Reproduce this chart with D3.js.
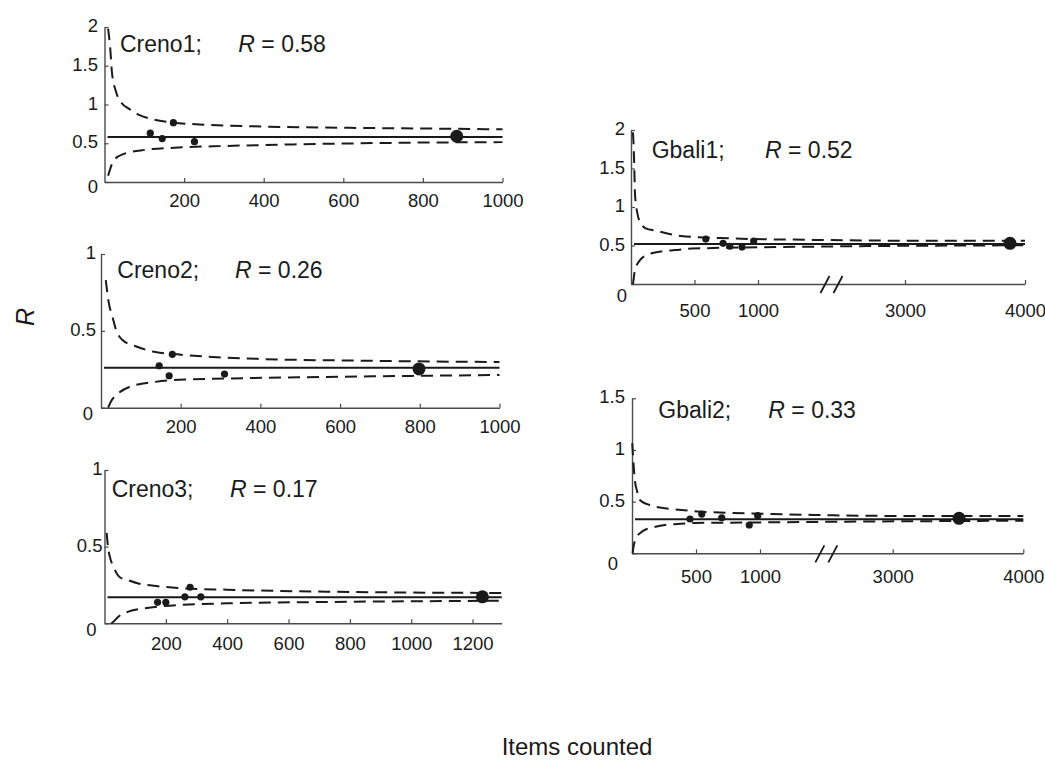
<!DOCTYPE html>
<html>
<head>
<meta charset="utf-8">
<script src="https://cdn.jsdelivr.net/npm/d3@7"></script>
<style>
  html, body { margin: 0; padding: 0; background: #fff; }
  svg { display: block; }
  text { font-family: "Liberation Sans", Arial, sans-serif; fill: #1a1a1a; }
</style>
</head>
<body>
<svg id="chart" width="1045" height="761"></svg>
<script>
// ---------------- DATA ----------------
const panelNames = ["Creno1", "Creno2", "Creno3", "Gbali1", "Gbali2"];
const panelR = [0.58, 0.26, 0.17, 0.52, 0.33];

const xTicksCreno12 = [200, 400, 600, 800, 1000];
const xTicksCreno3 = [200, 400, 600, 800, 1000, 1200];
const xTicksGbali = [500, 1000, 3000, 4000];
const yTicksTop2 = [0, 0.5, 1, 1.5, 2];
const yTicksTop1 = [0, 0.5, 1];
const yTicksTop15 = [0, 0.5, 1, 1.5];

// individual samples [items counted, R]
const creno1Samples = [[115, 0.63], [145, 0.56], [173, 0.765], [226, 0.52]];
const creno2Samples = [[146, 0.273], [171, 0.208], [179, 0.347], [310, 0.219]];
const creno3Samples = [[173, 0.137], [200, 0.137], [262, 0.173], [279, 0.235], [314, 0.173]];
const gbali1Samples = [[589, 0.584], [725, 0.528], [778, 0.49], [874, 0.48], [966, 0.558]];
const gbali2Samples = [[453, 0.332], [545, 0.38], [701, 0.344], [916, 0.274], [982, 0.364]];

// pooled totals [items counted, R]
const creno1Pooled = [885, 0.59];
const creno2Pooled = [798, 0.252];
const creno3Pooled = [1232, 0.173];
const gbali1Pooled = [3875, 0.528];
const gbali2Pooled = [3508, 0.338];

// confidence envelopes
const creno1Upper = [[9, 1.98], [14, 1.75], [19, 1.40], [28, 1.18], [43, 1.02], [60, 0.95], [85, 0.87], [120, 0.81], [165, 0.77], [250, 0.74], [400, 0.715], [600, 0.70], [800, 0.69], [1000, 0.68]];
const creno1Lower = [[9, 0.08], [15, 0.18], [22, 0.27], [47, 0.36], [102, 0.415], [186, 0.445], [307, 0.465], [475, 0.485], [726, 0.505], [1000, 0.515]];
const creno2Upper = [[12, 0.83], [19, 0.69], [29, 0.59], [38, 0.505], [54, 0.44], [87, 0.40], [130, 0.365], [200, 0.345], [400, 0.317], [650, 0.306], [1000, 0.297]];
const creno2Lower = [[18, 0.0], [25, 0.04], [42, 0.09], [71, 0.135], [137, 0.168], [196, 0.182], [317, 0.19], [567, 0.20], [1000, 0.213]];
const creno3Upper = [[7, 0.59], [12, 0.49], [18, 0.43], [29, 0.37], [50, 0.30], [78, 0.28], [110, 0.26], [160, 0.245], [241, 0.23], [400, 0.219], [724, 0.206], [1295, 0.198]];
const creno3Lower = [[22, 0.0], [29, 0.01], [45, 0.043], [78, 0.076], [132, 0.098], [180, 0.11], [398, 0.13], [724, 0.139], [1295, 0.147]];
const gbali1Upper = [[15, 1.97], [20, 1.83], [27, 1.45], [31, 1.18], [50, 0.92], [71, 0.805], [120, 0.72], [189, 0.695], [393, 0.623], [778, 0.593], [1750, 0.573], [3068, 0.562], [4000, 0.562]];
const gbali1Lower = [[15, 0.0], [18, 0.03], [31, 0.18], [71, 0.31], [123, 0.377], [163, 0.40], [267, 0.43], [346, 0.44], [477, 0.46], [1752, 0.485], [4000, 0.503]];
const gbali2Upper = [[2, 1.065], [10, 0.90], [23, 0.70], [40, 0.60], [62, 0.516], [120, 0.475], [232, 0.44], [310, 0.429], [466, 0.41], [896, 0.387], [1803, 0.371], [3155, 0.361], [4000, 0.361]];
const gbali2Lower = [[5, 0.0], [10, 0.05], [37, 0.16], [62, 0.194], [115, 0.235], [154, 0.248], [258, 0.274], [336, 0.281], [492, 0.293], [895, 0.298], [2307, 0.306], [4000, 0.316]];

// ---------------- LAYOUT ----------------
const layout = [
  { xDomain: [0, 1000], xRange: [104.5, 502.5], yTop: 2, yRange: [182, 27], xTicks: xTicksCreno12, yTicks: yTicksTop2,
    titleX: 120, titleY: 51.7, rX: 238.3, xPad: 11.4, yGap: 6.5, zeroDy: 6, zeroDx: 0, brk: false,
    samples: creno1Samples, pooled: creno1Pooled, upper: creno1Upper, lower: creno1Lower },
  { xDomain: [0, 1000], xRange: [101, 499.5], yTop: 1, yRange: [407.7, 254], xTicks: xTicksCreno12, yTicks: yTicksTop1,
    titleX: 117.3, titleY: 278.3, rX: 235, xPad: 12.4, yGap: 5, zeroDy: 7, zeroDx: -3, brk: false,
    samples: creno2Samples, pooled: creno2Pooled, upper: creno2Upper, lower: creno2Lower },
  { xDomain: [0, 1295], xRange: [104.5, 501.7], yTop: 1, yRange: [623.3, 470], xTicks: xTicksCreno3, yTicks: yTicksTop1,
    titleX: 111.7, titleY: 496.7, rX: 230, xPad: 13.4, yGap: 2, zeroDy: 8, zeroDx: -6, brk: false,
    samples: creno3Samples, pooled: creno3Pooled, upper: creno3Upper, lower: creno3Lower },
  { xDomain: [0, 1000, 3000, 4000], xRange: [631, 758, 905, 1025], yTop: 2, yRange: [284, 130], xTicks: xTicksGbali, yTicks: yTicksTop2,
    titleX: 651.7, titleY: 158.3, rX: 765, xPad: 19.4, yGap: 6, zeroDy: 12.7, zeroDx: 2, brk: true,
    samples: gbali1Samples, pooled: gbali1Pooled, upper: gbali1Upper, lower: gbali1Lower },
  { xDomain: [0, 1000, 3000, 4000], xRange: [632, 760, 892.7, 1023.3], yTop: 1.5, yRange: [553.3, 398.3], xTicks: xTicksGbali, yTicks: yTicksTop15,
    titleX: 658.3, titleY: 418.3, rX: 768.3, xPad: 16.4, yGap: 7, zeroDy: 11.7, zeroDx: -7, brk: true,
    samples: gbali2Samples, pooled: gbali2Pooled, upper: gbali2Upper, lower: gbali2Lower }
];

const INK = "#1a1a1a";
const AXIS = "#4a4a4a";
const svg = d3.select("#chart");
svg.append("rect").attr("width", 1045).attr("height", 761).attr("fill", "#fff");

layout.forEach((p, i) => {
  const x = d3.scaleLinear().domain(p.xDomain).range(p.xRange);
  const y = d3.scaleLinear().domain([0, p.yTop]).range(p.yRange);
  const g = svg.append("g");

  // x axis
  const xa = g.append("g")
    .attr("transform", `translate(0,${p.yRange[0]})`)
    .call(d3.axisBottom(x).tickValues(p.xTicks).tickFormat(d3.format("d"))
      .tickSize(-4).tickSizeOuter(0).tickPadding(p.xPad));
  xa.select(".domain").attr("stroke", AXIS).attr("stroke-width", 1.4);
  xa.selectAll(".tick line").attr("stroke", AXIS).attr("stroke-width", 1.2);
  xa.selectAll(".tick text").attr("font-size", 18.5).attr("fill", INK)
    .style("font-family", '"Liberation Sans", Arial, sans-serif');

  // y axis
  const ya = g.append("g")
    .attr("transform", `translate(${p.xRange[0]},0)`)
    .call(d3.axisLeft(y).tickValues(p.yTicks).tickFormat(d => d3.format("~g")(d))
      .tickSize(-4).tickSizeOuter(0).tickPadding(p.yGap));
  ya.select(".domain").attr("stroke", AXIS).attr("stroke-width", 1.4);
  ya.selectAll(".tick line").attr("stroke", AXIS).attr("stroke-width", 1.2);
  ya.selectAll(".tick text").attr("font-size", 18.5).attr("fill", INK)
    .attr("dy", "0.25em")
    .style("font-family", '"Liberation Sans", Arial, sans-serif');
  ya.selectAll(".tick").filter(d => d === 0).select("text")
    .attr("dy", null)
    .attr("y", 4.6 + p.zeroDy)
    .attr("x", -p.yGap + p.zeroDx);

  // axis break marks
  if (p.brk) {
    const bx = x(2000), by = p.yRange[0];
    [-6.5, 6.5].forEach(o => {
      g.append("line")
        .attr("x1", bx + o - 4.5).attr("y1", by + 9)
        .attr("x2", bx + o + 4.5).attr("y2", by - 8)
        .attr("stroke", INK).attr("stroke-width", 1.8);
    });
  }

  // envelope curves
  const line = d3.line().x(d => x(d[0])).y(d => y(d[1])).curve(d3.curveMonotoneX);
  [p.upper, p.lower].forEach(c => {
    g.append("path").attr("d", line(c))
      .attr("fill", "none").attr("stroke", INK).attr("stroke-width", 2)
      .attr("stroke-dasharray", "12,7");
  });

  // mean line
  const xEnd = p.xDomain[p.xDomain.length - 1];
  g.append("line")
    .attr("x1", p.xRange[0] + 3).attr("x2", x(xEnd))
    .attr("y1", y(panelR[i])).attr("y2", y(panelR[i]))
    .attr("stroke", INK).attr("stroke-width", 2);

  // samples
  g.selectAll("circle.s").data(p.samples).enter().append("circle")
    .attr("cx", d => x(d[0])).attr("cy", d => y(d[1])).attr("r", 3.6)
    .attr("fill", INK);
  // pooled
  g.append("circle").attr("cx", x(p.pooled[0])).attr("cy", y(p.pooled[1]))
    .attr("r", 6.5).attr("fill", INK);

  // title
  const t = g.append("text").attr("y", p.titleY).attr("font-size", 23);
  t.append("tspan").attr("x", p.titleX).text(panelNames[i] + ";");
  t.append("tspan").attr("x", p.rX).attr("font-style", "italic").text("R");
  t.append("tspan").text(" = " + panelR[i].toFixed(2));
});

// axis titles
svg.append("text")
  .attr("transform", "translate(34,317) rotate(-90)")
  .attr("text-anchor", "middle")
  .attr("font-size", 25).attr("font-style", "italic")
  .text("R");

svg.append("text")
  .attr("x", 577).attr("y", 755)
  .attr("text-anchor", "middle")
  .attr("font-size", 24)
  .text("Items counted");
</script>
</body>
</html>
